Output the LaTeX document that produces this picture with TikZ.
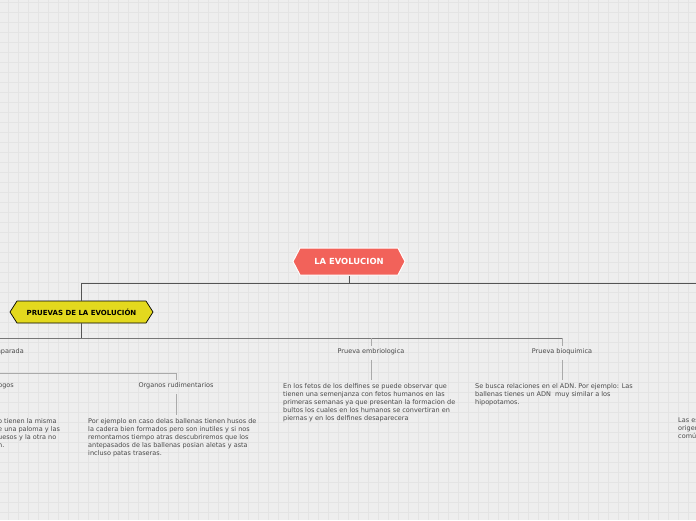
\documentclass[tikz,border=0pt]{standalone}
\usepackage{fontspec}
\setmainfont{DejaVu Sans}
\usetikzlibrary{shapes.symbols,positioning}

\definecolor{paper}{HTML}{EEEEEE}
\definecolor{gridgray}{HTML}{E4E4E4}
\definecolor{rootred}{HTML}{F2625A}
\definecolor{subyellow}{HTML}{E3D91E}
\definecolor{linedark}{HTML}{555555}
\definecolor{linemid}{HTML}{777777}
\definecolor{linelight}{HTML}{AAAAAA}
\definecolor{textgray}{HTML}{4A4A4A}

\tikzset{
    gridline/.style={draw=gridgray, line width=0.7pt},
    rootnode/.style={signal, signal to=east and west, signal pointer angle=125, fill=rootred, draw=white, line width=1pt, text=white, font=\fontsize{8.4}{10}\selectfont\bfseries, minimum width=112pt, minimum height=27pt, inner sep=0pt},
    subnode/.style={signal, signal to=east and west, signal pointer angle=115, fill=subyellow, draw=black, line width=0.7pt, text=black, font=\fontsize{7}{8}\selectfont\bfseries, minimum width=143pt, minimum height=22pt, inner sep=0pt},
    labelnode/.style={text=textgray, font=\fontsize{6.5}{8}\selectfont, inner sep=2pt},
    textnode/.style={text=textgray, font=\fontsize{6.5}{8}\selectfont, align=left, inner sep=0pt, anchor=north west},
    mainline/.style={draw=linedark, line width=0.9pt},
    busline/.style={draw=linemid, line width=0.9pt},
    tickline/.style={draw=linelight, line width=0.9pt},
}

\begin{document}
\begin{tikzpicture}[x=1pt, y=-1pt]
    \useasboundingbox (0,0) rectangle (696,520);
    \clip (0,0) rectangle (696,520);
    \fill[paper] (0,0) rectangle (696,520);
    \foreach \gx in {8,18,...,698} \draw[gridline] (\gx,0) -- (\gx,520);
    \foreach \gy in {2,12,...,522} \draw[gridline] (0,\gy) -- (696,\gy);

    \node[rootnode] (root) at (349,261.5) {LA EVOLUCION};
    \node[subnode] (pruevas) at (81.5,312) {PRUEVAS DE LA EVOLUCIÓN};

    \node[labelnode, anchor=east] (anat) at (26,351.5) {Anatomia comparada};
    \node[labelnode] (embrio) at (371,351.5) {Prueva embriologica};
    \node[labelnode] (bioq) at (562,351.5) {Prueva bioquimica};
    \node[labelnode, anchor=east] (homol) at (16,385.5) {Organos homologos};
    \node[labelnode] (rudim) at (176,385.5) {Organos rudimentarios};

    \node[textnode] (homoltxt) at (-2,418) {o tienen la misma\\e una paloma y las\\uesos y la otra no\\n.};
    \node[textnode] (rudimtxt) at (88,418) {Por ejemplo en caso delas ballenas tienen husos de\\la cadera bien formados pero son inutiles y si nos\\remontamos tiempo atras descubriremos que los\\antepasados de las ballenas posian aletas y asta\\incluso patas traseras.};
    \node[textnode] (embriotxt) at (283,383) {En los fetos de los delfines se puede observar que\\tienen una semenjanza con fetos humanos en las\\primeras semanas ya que presentan la formacion de\\bultos los cuales en los humanos se convertiran en\\piernas y en los delfines desaparecera};
    \node[textnode] (bioqtxt) at (475,383) {Se busca relaciones en el ADN. Por ejemplo: Las\\ballenas tienes un ADN\ \ muy similar a los\\hipopotamos.};
    \node[textnode] (farright) at (678,418) {Las es\\origen\\comú};

    % main branches
    \coordinate (busA) at (root.south |- 0,283);
    \coordinate (offright) at (700,283);
    \draw[mainline] (root.south) -- (busA);
    \draw[mainline] (offright) -| (pruevas.north);

    \coordinate (busB) at (pruevas.south |- 0,338);
    \draw[mainline] (pruevas.south) -- (busB);
    \draw[busline] (anat.north |- busB) -- (bioq.north |- busB);
    \draw[tickline] (anat.north |- busB) -- (anat.north);
    \draw[tickline] (embrio.north |- busB) -- (embrio.north);
    \draw[tickline] (bioq.north |- busB) -- (bioq.north);

    \coordinate (busC) at (anat.south |- 0,373);
    \draw[tickline] (anat.south) -- (busC) -| (rudim.north);
    \draw[tickline] (homol.north |- busC) -- (homol.north);

    % into the texts
    \draw[tickline, shorten <=3pt, shorten >=3pt] (embrio.south) -- (embrio.south |- embriotxt.north);
    \draw[tickline, shorten <=3pt, shorten >=3pt] (bioq.south) -- (bioq.south |- bioqtxt.north);
    \draw[tickline, shorten <=3pt, shorten >=3pt] (rudim.south) -- (rudim.south |- rudimtxt.north);
\end{tikzpicture}
\end{document}
